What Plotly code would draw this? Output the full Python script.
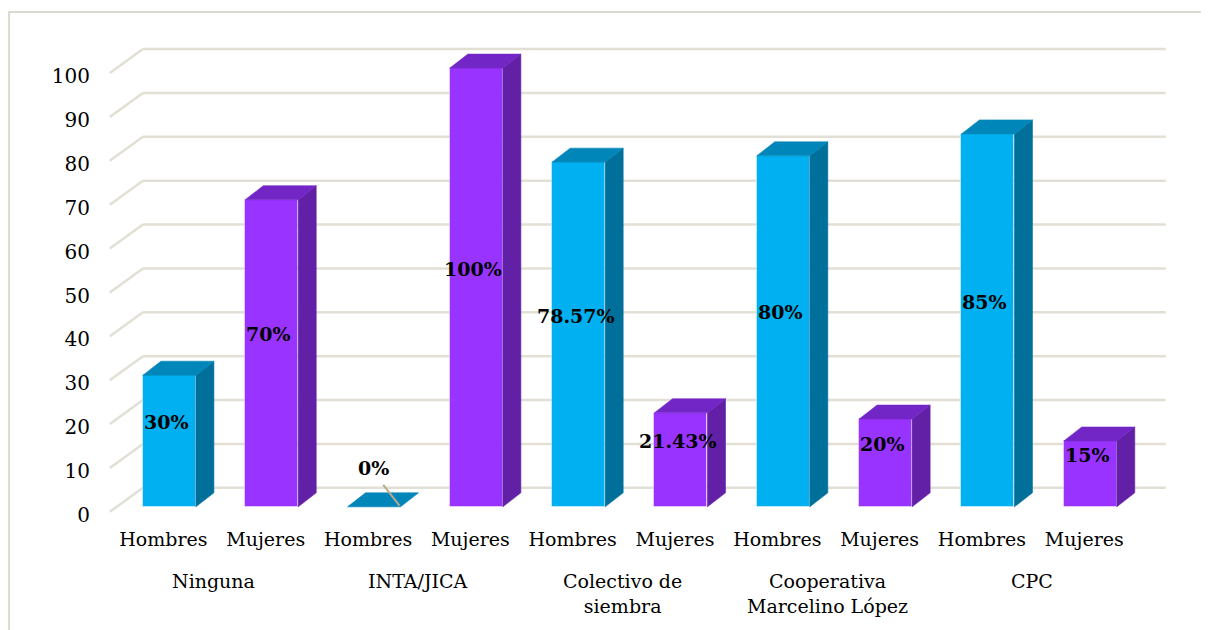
import plotly.graph_objects as go

# ---------------- data ----------------
categories = ["Ninguna", "INTA/JICA", "Colectivo de<br>siembra",
              "Cooperativa<br>Marcelino López", "CPC"]
series_names = ["Hombres", "Mujeres"]
hombres = [30, 0, 78.57, 80, 85]
mujeres = [70, 100, 21.43, 20, 15]
hombres_labels = ["30%", "0%", "78.57%", "80%", "85%"]
mujeres_labels = ["70%", "100%", "21.43%", "20%", "15%"]
y_ticks = [0, 10, 20, 30, 40, 50, 60, 70, 80, 90, 100]

# ---------------- style ----------------
FONT = "DejaVu Serif"
FRONT = {"Hombres": "#00B0F0", "Mujeres": "#9933FF"}
TOP = {"Hombres": "#0086B8", "Mujeres": "#7326C6"}
SIDE = {"Hombres": "#00709A", "Mujeres": "#6220A6"}
GRID = "#E2DFD5"
BAR_W = 0.518          # bar width in category units
DX, DY = 0.176, 3.19   # 3-D depth offset of bars (x units, y units)
GX, GY = 0.323, 5.47   # depth of the back wall
FLOOR = -1.14          # front floor edge relative to bar base
LABEL_OFF = -1.84      # vertical offset of value-axis labels

series_vals = {"Hombres": hombres, "Mujeres": mujeres}
series_lbls = {"Hombres": hombres_labels, "Mujeres": mujeres_labels}

fig = go.Figure()

pos = {s: [2 * g + k for g in range(len(categories))] for k, s in enumerate(series_names)}

# front faces
for s in series_names:
    fig.add_trace(go.Bar(
        x=pos[s], y=series_vals[s], width=BAR_W, name=s,
        marker=dict(color=FRONT[s], line=dict(color="rgba(255,255,255,0.45)", width=1)),
        showlegend=False, hoverinfo="skip"))

# top and side faces
for s in series_names:
    tx, ty, sx, sy = [], [], [], []
    for x, v in zip(pos[s], series_vals[s]):
        x0, x1 = x - BAR_W / 2, x + BAR_W / 2
        tx += [x0, x1, x1 + DX, x0 + DX, x0, None]
        ty += [v, v, v + DY, v + DY, v, None]
        if v > 0:
            sx += [x1, x1 + DX, x1 + DX, x1, x1, None]
            sy += [0, DY, v + DY, v, 0, None]
    fig.add_trace(go.Scatter(x=sx, y=sy, fill="toself", fillcolor=SIDE[s], mode="lines",
                             line=dict(width=0.6, color=SIDE[s]), showlegend=False, hoverinfo="skip"))
    fig.add_trace(go.Scatter(x=tx, y=ty, fill="toself", fillcolor=TOP[s], mode="lines",
                             line=dict(width=0.6, color=TOP[s]), showlegend=False, hoverinfo="skip"))

# data labels
for s in series_names:
    for x, v, lab in zip(pos[s], series_vals[s], series_lbls[s]):
        if v > 0:
            fig.add_annotation(x=x - 0.03, y=v / 2 + 4.3, text=lab, showarrow=False,
                               font=dict(family=FONT, size=19, color="black", weight="bold"))
        else:
            fig.add_annotation(x=x - 0.01, y=8.9, text=lab, showarrow=False,
                               font=dict(family=FONT, size=19, color="black", weight="bold"))
            fig.add_trace(go.Scatter(x=[x + 0.09, x + BAR_W / 2 - 0.01], y=[5.0, 0.25],
                                     mode="lines", line=dict(color="#B8AA8E", width=2),
                                     showlegend=False, hoverinfo="skip"))

# invisible trace to register the label axis
fig.add_trace(go.Scatter(x=[None], y=[None], yaxis="y2", showlegend=False, hoverinfo="skip"))

# back-wall gridlines and floor diagonals
x_back0 = -0.582 + GX
x_back1 = 9.738
for v in y_ticks:
    fig.add_shape(type="line", x0=x_back0, x1=x_back1, y0=v + FLOOR + GY, y1=v + FLOOR + GY,
                  line=dict(color=GRID, width=2.5), layer="below")
    fig.add_shape(type="line", x0=-0.582, x1=x_back0, y0=v + FLOOR, y1=v + FLOOR + GY,
                  line=dict(color=GRID, width=2.5), layer="below")

# category group labels
for g, c in enumerate(categories):
    fig.add_annotation(x=2 * g + 0.5, xshift=-7, y=-0.0995, yref="paper", yanchor="top",
                       text=c, showarrow=False, align="center",
                       font=dict(family=FONT, size=19, color="black"))

# outer frame
fig.add_shape(type="rect", xref="paper", yref="paper", x0=-0.0934, x1=1.0377, y0=-0.30, y1=1.0431,
              line=dict(color="#DCDAD0", width=2), fillcolor="rgba(0,0,0,0)", layer="below")

all_pos = [p for s in series_names for p in pos[s]]
all_txt = [s for s in series_names for _ in pos[s]]

fig.update_layout(
    width=1209, height=630,
    margin=dict(l=100, r=50, t=25, b=118),
    paper_bgcolor="white", plot_bgcolor="white",
    font=dict(family=FONT, color="black"),
    bargap=0,
    xaxis=dict(range=[-0.6, 9.75], showgrid=False, zeroline=False, showline=False,
               tickvals=all_pos, ticktext=all_txt, ticks="", ticklabelshift=-6,
               ticklabelstandoff=6, tickfont=dict(family=FONT, size=19, color="black")),
    yaxis=dict(range=[-3, 108], showgrid=False, zeroline=False, showline=False,
               showticklabels=False, ticks=""),
    yaxis2=dict(range=[-3 - LABEL_OFF, 108 - LABEL_OFF], overlaying="y", side="left", anchor="x",
                tickvals=y_ticks, showgrid=False, zeroline=False, showline=False, ticks="",
                ticklabelstandoff=17, tickfont=dict(family=FONT, size=20, color="black")),
)

fig.write_html("out.html")
